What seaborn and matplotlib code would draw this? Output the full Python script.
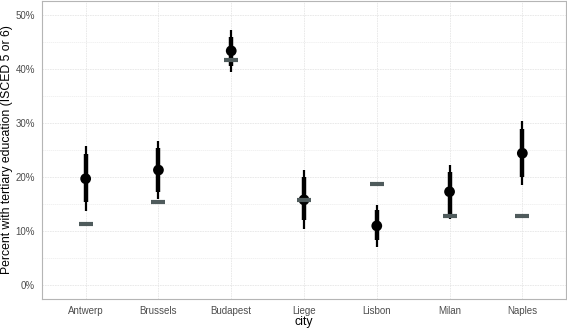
import numpy as np
import pandas as pd
import matplotlib
matplotlib.use("Agg")
import matplotlib.pyplot as plt
import seaborn as sns
from matplotlib.ticker import MultipleLocator, FuncFormatter

# Dados (percentuais)
cities = ["Antwerp", "Brussels", "Budapest", "Liege", "Lisbon", "Milan", "Naples"]
estimate = [19.7, 21.3, 43.3, 15.8, 11.0, 17.3, 24.4]
inner_lo = [15.4, 17.3, 40.5, 12.1, 8.4, 13.0, 20.1]
inner_hi = [24.2, 25.4, 45.9, 20.0, 13.9, 21.0, 28.8]
outer_lo = [13.8, 16.0, 39.4, 10.4, 7.1, 12.3, 18.5]
outer_hi = [25.7, 26.6, 47.2, 21.4, 14.8, 22.2, 30.3]
benchmark = [11.4, 15.4, 41.7, 15.8, 18.7, 12.8, 12.8]

df = pd.DataFrame({
    "city": cities, "estimate": estimate,
    "inner_lo": inner_lo, "inner_hi": inner_hi,
    "outer_lo": outer_lo, "outer_hi": outer_hi,
    "benchmark": benchmark,
})

sns.set_theme(style="white")
plt.rcParams["font.family"] = ["Liberation Sans", "DejaVu Sans"]

fig = plt.figure(figsize=(5.67, 3.30), dpi=100)
ax = fig.add_axes([42 / 567, 31 / 330, 524 / 567, 298 / 330])

# intervalos (fino e grosso)
ax.vlines(df["city"], df["outer_lo"], df["outer_hi"], color="black", lw=1.6, zorder=3)
ax.vlines(df["city"], df["inner_lo"], df["inner_hi"], color="black", lw=3.2, zorder=3)

sns.scatterplot(data=df, x="city", y="estimate", ax=ax, color="black",
                s=60, edgecolor="none", zorder=4)
sns.scatterplot(data=df, x="city", y="benchmark", ax=ax, color="#4f5b5c",
                marker="_", s=110, linewidth=3.0, zorder=5)

ax.set_xlim(-0.6, len(cities) - 0.4)
ax.set_ylim(-2.5, 52.5)
ax.yaxis.set_major_locator(MultipleLocator(10))
ax.yaxis.set_minor_locator(MultipleLocator(5))
ax.yaxis.set_major_formatter(FuncFormatter(lambda v, p: f"{v:.0f}%"))

ax.grid(True, which="major", color="#e6e6e6", lw=0.6, ls=(0, (2, 1)))
ax.grid(True, which="minor", axis="y", color="#ececec", lw=0.5, ls=(0, (2, 1)))
ax.set_axisbelow(True)

for s in ax.spines.values():
    s.set_color("#b5b5b5")
    s.set_linewidth(0.8)

ax.tick_params(axis="both", which="major", length=3, width=0.6, color="#444444",
               labelsize=7, labelcolor="#4d4d4d", pad=2)
ax.tick_params(axis="y", which="minor", length=0)

ax.set_xlabel("city", fontsize=8.8, color="black")
ax.set_ylabel("Percent with tertiary education (ISCED 5 or 6)", fontsize=8.8,
              color="black")
ax.xaxis.set_label_coords(0.5, -0.058)
ax.yaxis.set_label_coords(-0.056, 0.5)

fig.savefig("out.png", dpi=100)
